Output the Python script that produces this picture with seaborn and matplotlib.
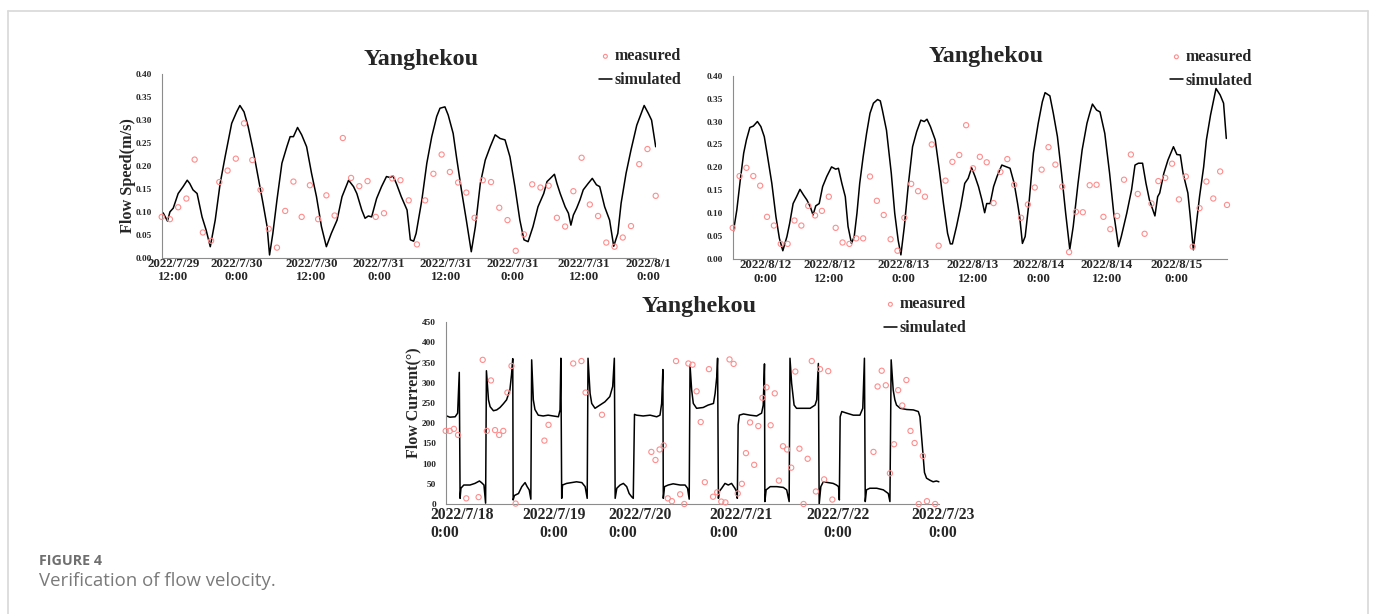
import matplotlib
matplotlib.use("Agg")
import matplotlib.pyplot as plt
from matplotlib.lines import Line2D
from matplotlib.ticker import FormatStrFormatter
import numpy as np
import seaborn as sns

# ------------------------------------------------------------------
# Yanghekou station: flow speed, 2022/7/29 - 2022/8/1 (hours from start)
# ------------------------------------------------------------------
speed_a_meas_t = list(range(61))
speed_a_meas = [0.089, 0.084, 0.110, 0.129, 0.214, 0.055, 0.037, 0.165, 0.190, 0.216,
                0.293, 0.213, 0.148, 0.063, 0.022, 0.102, 0.166, 0.089, 0.158, 0.084,
                0.136, 0.092, 0.261, 0.174, 0.156, 0.167, 0.089, 0.097, 0.173, 0.169,
                0.125, 0.029, 0.125, 0.183, 0.225, 0.187, 0.164, 0.142, 0.087, 0.169,
                0.165, 0.109, 0.082, 0.015, 0.051, 0.160, 0.153, 0.157, 0.087, 0.068,
                0.145, 0.218, 0.116, 0.091, 0.033, 0.024, 0.044, 0.069, 0.204, 0.237,
                0.135]
speed_a_sim_t = [0.0, 0.2, 0.7, 1.0, 1.4, 2.0, 2.6, 3.1, 3.4, 3.8,
                 4.3, 4.9, 5.4, 5.9, 6.5, 7.1, 7.7, 8.5, 9.1, 9.5,
                 10.0, 10.5, 11.1, 11.7, 12.3, 12.8, 13.1, 13.5, 14.0, 14.6,
                 15.2, 15.6, 16.0, 16.5, 17.0, 17.6, 18.2, 18.8, 19.4, 20.0,
                 20.6, 21.3, 21.9, 22.7, 23.3, 23.7, 24.3, 24.7, 25.1, 25.5,
                 26.1, 26.7, 27.3, 27.7, 28.1, 28.5, 29.1, 29.8, 30.2, 30.6,
                 30.9, 31.6, 32.2, 32.8, 33.4, 33.8, 34.4, 34.8, 35.4, 35.8,
                 36.4, 37.0, 37.6, 38.1, 38.7, 39.3, 39.9, 40.5, 41.1, 41.7,
                 42.3, 42.9, 43.5, 44.0, 44.5, 45.1, 45.7, 46.4, 46.8, 47.2,
                 47.7, 48.0, 48.4, 49.0, 49.4, 49.7, 50.0, 50.4, 50.8, 51.2,
                 51.8, 52.3, 52.8, 53.2, 53.8, 54.4, 54.9, 55.4, 55.8, 56.4,
                 57.0, 57.7, 58.1, 58.6, 59.1, 59.5, 60.0]
speed_a_sim = [0.100, 0.097, 0.080, 0.100, 0.108, 0.140, 0.155, 0.169, 0.162, 0.148,
               0.140, 0.089, 0.060, 0.024, 0.082, 0.162, 0.220, 0.293, 0.318, 0.332,
               0.318, 0.286, 0.235, 0.177, 0.119, 0.068, 0.006, 0.053, 0.126, 0.206,
               0.242, 0.264, 0.264, 0.284, 0.268, 0.242, 0.184, 0.133, 0.068, 0.024,
               0.053, 0.082, 0.133, 0.169, 0.155, 0.140, 0.104, 0.086, 0.091, 0.089,
               0.129, 0.155, 0.177, 0.175, 0.178, 0.162, 0.133, 0.104, 0.039, 0.036,
               0.053, 0.126, 0.206, 0.264, 0.308, 0.326, 0.329, 0.311, 0.271, 0.220,
               0.148, 0.082, 0.013, 0.068, 0.162, 0.213, 0.242, 0.268, 0.260, 0.257,
               0.220, 0.155, 0.082, 0.039, 0.035, 0.068, 0.111, 0.140, 0.166, 0.173,
               0.182, 0.162, 0.140, 0.111, 0.097, 0.071, 0.093, 0.108, 0.126, 0.148,
               0.162, 0.173, 0.159, 0.155, 0.111, 0.082, 0.025, 0.053, 0.119, 0.184,
               0.235, 0.289, 0.308, 0.332, 0.315, 0.300, 0.242]
speed_a_ticks = [1.4, 9.1, 18.2, 26.4, 34.5, 42.6, 51.3, 59.1]
speed_a_labels = ["2022/7/29\n12:00", "2022/7/30\n0:00", "2022/7/30\n12:00", "2022/7/31\n0:00",
                  "2022/7/31\n12:00", "2022/7/31\n0:00", "2022/7/31\n12:00", "2022/8/1\n0:00"]

# ------------------------------------------------------------------
# Yanghekou station: flow speed, 2022/8/12 - 2022/8/15
# ------------------------------------------------------------------
speed_b_meas_t = list(range(73))
speed_b_meas = [0.068, 0.181, 0.199, 0.181, 0.160, 0.092, 0.073, 0.033, 0.033, 0.084,
                0.073, 0.116, 0.095, 0.105, 0.136, 0.068, 0.036, 0.033, 0.045, 0.045,
                0.180, 0.127, 0.096, 0.043, 0.018, 0.090, 0.164, 0.148, 0.136, 0.250,
                0.029, 0.171, 0.212, 0.227, 0.292, 0.198, 0.223, 0.211, 0.122, 0.190,
                0.218, 0.162, 0.090, 0.119, 0.156, 0.195, 0.244, 0.206, 0.158, 0.015,
                0.103, 0.102, 0.161, 0.162, 0.092, 0.065, 0.094, 0.173, 0.228, 0.142,
                0.055, 0.121, 0.170, 0.177, 0.208, 0.130, 0.180, 0.027, 0.111, 0.169,
                0.132, 0.191, 0.118]
speed_b_sim_t = [0.1, 0.6, 1.1, 1.6, 2.0, 2.5, 3.0, 3.6, 4.1, 4.6,
                 5.0, 5.7, 6.3, 6.8, 7.3, 7.9, 8.3, 8.8, 9.3, 9.8,
                 10.3, 10.8, 11.3, 11.7, 12.1, 12.6, 13.1, 13.7, 14.4, 15.0,
                 15.4, 15.9, 16.4, 16.8, 17.3, 17.7, 18.1, 18.5, 19.0, 19.5,
                 20.0, 20.5, 21.1, 21.5, 21.8, 22.4, 23.1, 23.6, 24.1, 24.5,
                 25.0, 25.6, 26.2, 26.8, 27.4, 27.9, 28.3, 28.8, 29.5, 30.1,
                 30.7, 31.3, 31.7, 32.0, 32.6, 33.2, 33.8, 34.3, 34.8, 35.3,
                 35.8, 36.3, 36.7, 37.0, 37.5, 38.0, 38.5, 39.2, 39.9, 40.4,
                 41.0, 41.5, 41.8, 42.2, 42.6, 43.2, 43.8, 44.5, 45.1, 45.5,
                 46.2, 46.7, 47.3, 47.9, 48.5, 49.1, 49.6, 50.3, 50.9, 51.6,
                 52.0, 52.4, 53.0, 53.5, 54.2, 54.9, 55.5, 56.2, 56.6, 57.4,
                 58.1, 58.6, 59.1, 59.7, 60.2, 60.7, 61.2, 61.5, 61.9, 62.2,
                 62.8, 63.4, 64.2, 64.7, 65.2, 65.6, 66.3, 66.6, 67.1, 67.5,
                 68.0, 68.6, 69.0, 69.6, 70.4, 71.0, 71.5, 71.9]
speed_b_sim = [0.060, 0.107, 0.172, 0.231, 0.260, 0.287, 0.290, 0.300, 0.289, 0.267,
               0.231, 0.165, 0.092, 0.045, 0.018, 0.049, 0.078, 0.121, 0.136, 0.152,
               0.140, 0.129, 0.114, 0.096, 0.116, 0.121, 0.158, 0.180, 0.201, 0.196,
               0.198, 0.165, 0.136, 0.071, 0.034, 0.049, 0.100, 0.165, 0.223, 0.274,
               0.318, 0.340, 0.348, 0.345, 0.325, 0.281, 0.187, 0.100, 0.041, 0.009,
               0.071, 0.165, 0.245, 0.278, 0.303, 0.300, 0.305, 0.289, 0.260, 0.194,
               0.121, 0.056, 0.033, 0.033, 0.071, 0.114, 0.165, 0.176, 0.199, 0.180,
               0.158, 0.129, 0.101, 0.121, 0.121, 0.158, 0.180, 0.205, 0.201, 0.198,
               0.165, 0.121, 0.092, 0.034, 0.049, 0.129, 0.231, 0.296, 0.343, 0.363,
               0.356, 0.318, 0.267, 0.187, 0.100, 0.021, 0.071, 0.165, 0.238, 0.296,
               0.318, 0.338, 0.325, 0.321, 0.274, 0.187, 0.100, 0.027, 0.049, 0.100,
               0.151, 0.205, 0.209, 0.209, 0.165, 0.129, 0.107, 0.094, 0.136, 0.144,
               0.187, 0.216, 0.245, 0.228, 0.227, 0.187, 0.144, 0.100, 0.020, 0.071,
               0.136, 0.201, 0.260, 0.314, 0.372, 0.358, 0.340, 0.263]
speed_b_ticks = [4.8, 14.1, 24.9, 35.0, 44.6, 54.5, 64.7]
speed_b_labels = ["2022/8/12\n0:00", "2022/8/12\n12:00", "2022/8/13\n0:00", "2022/8/13\n12:00",
                  "2022/8/14\n0:00", "2022/8/14\n12:00", "2022/8/15\n0:00"]

# ------------------------------------------------------------------
# Yanghekou station: flow direction, 2022/7/18 - 2022/7/23
# ------------------------------------------------------------------
dir_meas_t = [0, 1, 2, 3, 5, 8, 9, 10, 11, 12,
              13, 14, 15, 16, 17, 24, 25, 31, 33, 34,
              38, 50, 51, 52, 53, 54, 55, 56, 57, 58,
              59, 60, 61, 62, 63, 64, 65, 66, 67, 68,
              69, 70, 71, 72, 73, 74, 75, 76, 77, 78,
              79, 80, 81, 82, 83, 84, 85, 86, 87, 88,
              89, 90, 91, 92, 93, 94, 104, 105, 106, 107,
              108, 109, 110, 111, 112, 113, 114, 115, 116, 117,
              119]
dir_meas = [181, 181, 186, 171, 14, 17, 357, 181, 306, 183,
            171, 181, 276, 342, 1, 157, 196, 348, 354, 276,
            221, 129, 109, 135, 145, 14, 7, 354, 24, 0,
            348, 345, 279, 203, 54, 334, 18, 29, 6, 4,
            358, 347, 26, 50, 126, 202, 97, 193, 263, 289,
            195, 274, 58, 143, 135, 90, 328, 137, 0, 112,
            354, 31, 334, 61, 329, 11, 129, 291, 330, 294,
            76, 148, 282, 244, 307, 181, 151, 0, 119, 7,
            0]
dir_sim_t = [0.0, 1.0, 2.3, 2.9, 3.3, 3.5, 3.7, 4.4, 5.9, 7.1,
             8.2, 8.7, 9.3, 9.7, 9.9, 10.4, 10.8, 11.6, 12.4, 13.2,
             14.0, 14.8, 15.6, 16.0, 16.3, 16.4, 16.7, 17.7, 18.5, 19.3,
             19.8, 20.3, 20.7, 20.9, 21.3, 21.7, 22.5, 23.7, 24.9, 26.2,
             27.4, 27.8, 28.0, 28.2, 28.4, 29.4, 30.6, 31.8, 33.1, 33.9,
             34.4, 34.6, 35.1, 35.5, 36.3, 37.5, 38.7, 39.9, 40.6, 41.0,
             41.2, 41.6, 42.4, 43.2, 44.0, 44.6, 45.2, 45.6, 45.9, 46.4,
             48.0, 49.7, 51.3, 52.1, 52.5, 52.8, 52.9, 53.2, 54.1, 55.3,
             57.0, 58.2, 58.8, 59.2, 59.4, 59.8, 60.2, 61.0, 62.6, 63.8,
             65.1, 65.5, 65.9, 66.1, 66.3, 66.5, 67.1, 67.9, 68.7, 69.5,
             70.3, 70.7, 70.9, 71.1, 71.4, 72.4, 74.0, 75.6, 76.8, 77.2,
             77.5, 77.6, 77.9, 78.9, 80.5, 82.1, 82.9, 83.5, 83.7, 84.1,
             84.7, 85.3, 86.9, 88.6, 89.8, 90.2, 90.6, 90.8, 91.2, 91.8,
             93.0, 94.2, 95.0, 95.5, 95.7, 95.9, 96.3, 97.5, 99.1, 100.7,
             101.4, 101.8, 102.0, 102.3, 103.1, 104.8, 106.4, 107.6, 108.0, 108.3,
             108.8, 109.2, 109.6, 110.5, 112.1, 113.7, 114.9, 115.3, 115.9, 116.1,
             116.4, 116.9, 117.7, 118.5, 119.3, 119.9]
dir_sim = [219, 215, 216, 225, 326, 14, 39, 47, 47, 51,
           57, 53, 47, 2, 330, 258, 241, 231, 233, 239,
           248, 258, 282, 320, 360, 10, 21, 26, 43, 53,
           43, 35, 12, 357, 258, 234, 220, 218, 220, 218,
           216, 233, 361, 14, 47, 51, 53, 55, 53, 43,
           14, 361, 274, 249, 237, 245, 253, 266, 291, 361,
           14, 39, 47, 51, 43, 26, 18, 14, 222, 220,
           218, 220, 216, 220, 249, 333, 14, 43, 47, 50,
           47, 47, 39, 12, 344, 282, 249, 237, 239, 245,
           249, 274, 315, 361, 14, 31, 39, 51, 47, 51,
           39, 31, 14, 196, 220, 223, 220, 218, 225, 245,
           347, 6, 35, 43, 43, 41, 35, 6, 361, 299,
           245, 237, 237, 237, 245, 258, 348, 0, 43, 55,
           53, 51, 47, 43, 10, 216, 229, 225, 220, 220,
           237, 361, 6, 35, 39, 39, 35, 26, 6, 357,
           282, 258, 245, 237, 234, 233, 229, 216, 142, 117,
           78, 64, 59, 55, 57, 55]
dir_ticks = [3.9, 26.3, 47.2, 71.7, 95.4, 120.8]
dir_labels = ["2022/7/18\n0:00", "2022/7/19\n0:00", "2022/7/20\n0:00",
              "2022/7/21\n0:00", "2022/7/22\n0:00", "2022/7/23\n0:00"]

STATION = "Yanghekou"
CAPTION_HEAD = "FIGURE 4"
CAPTION_TEXT = "Verification of flow velocity."

# ------------------------------------------------------------------
# Styling
# ------------------------------------------------------------------
sns.set_style("white")
plt.rcParams["font.family"] = ["Liberation Serif", "DejaVu Serif"]
plt.rcParams["font.weight"] = "bold"

RED = "#ff8c8c"
SPINE = "#8c8c8c"
W, H = 1375, 614

fig = plt.figure(figsize=(W / 100, H / 100), dpi=100)


def fx(px):
    return px / W


def fy(py):
    return 1 - py / H


def panel(rect, meas_t, meas_v, sim_t, sim_v, xlim, ymax, ystep, yfmt,
          ticks, labels, xfs, xpad, spine_end=None):
    ax = fig.add_axes(rect)
    sns.lineplot(x=sim_t, y=sim_v, ax=ax, color="black", linewidth=1.1,
                 estimator=None, sort=False, label="simulated", zorder=2)
    sns.scatterplot(x=meas_t, y=meas_v, ax=ax, marker="o", s=14,
                    facecolor="none", edgecolor=RED, linewidth=0.8,
                    label="measured", zorder=3, clip_on=False)
    ax.set_xlim(*xlim)
    ax.set_ylim(0, ymax)
    ax.set_yticks(np.arange(0, ymax + ystep / 2, ystep))
    ax.yaxis.set_major_formatter(FormatStrFormatter(yfmt))
    ax.set_xticks(ticks)
    ax.set_xticklabels(labels, fontsize=xfs, fontweight="bold")
    ax.tick_params(axis="x", length=0, pad=xpad)
    ax.tick_params(axis="y", length=0, pad=7, labelsize=6.7)
    for s in ("top", "right"):
        ax.spines[s].set_visible(False)
    for s in ("left", "bottom"):
        ax.spines[s].set_color(SPINE)
        ax.spines[s].set_linewidth(0.8)
    if spine_end is not None:
        ax.spines["bottom"].set_bounds(xlim[0], spine_end)
    ax.set_xlabel("")
    ax.set_ylabel("")
    ax.grid(False)
    return ax


def legend(ax, x_px, y_px):
    h, l = ax.get_legend_handles_labels()
    order = [l.index("measured"), l.index("simulated")]
    ax.legend([h[i] for i in order], [l[i] for i in order], loc="upper left",
              bbox_to_anchor=(fx(x_px), fy(y_px)), bbox_transform=fig.transFigure,
              frameon=False, prop=dict(size=11.5, weight="bold"),
              handlelength=0.8, handletextpad=0.2, labelspacing=0.5,
              borderpad=0, borderaxespad=0, scatterpoints=1, markerscale=0.75)


# Top-left: flow speed (July)
ax1 = panel([fx(161.7), fy(257.7), 494 / W, 183.4 / H],
            speed_a_meas_t, speed_a_meas, speed_a_sim_t, speed_a_sim,
            (0, 60), 0.40, 0.05, "%.2f", speed_a_ticks, speed_a_labels, 9.4, 0)
ax1.set_ylabel("Flow Speed(m/s)", fontsize=11.7, fontweight="bold")
ax1.yaxis.set_label_coords(-0.0682, 0.4455)
ax1.yaxis.label.set_verticalalignment("center")
legend(ax1, 599, 48.5)

# Top-right: flow speed (August)
ax2 = panel([fx(732.7), fy(259), 494.3 / W, 183.3 / H],
            speed_b_meas_t, speed_b_meas, speed_b_sim_t, speed_b_sim,
            (0, 72), 0.40, 0.05, "%.2f", speed_b_ticks, speed_b_labels, 9.4, 0)
legend(ax2, 1170, 49)

# Bottom: flow direction
ax3 = panel([fx(445.7), fy(504), 497.7 / W, 181.7 / H],
            dir_meas_t, dir_meas, dir_sim_t, dir_sim,
            (0, 121), 450, 50, "%d", dir_ticks, dir_labels, 11.3, 2, spine_end=120)
ax3.set_ylabel("Flow Current(°)", fontsize=11.5, fontweight="bold")
ax3.yaxis.set_label_coords(-0.0651, 0.5586)
ax3.yaxis.label.set_verticalalignment("center")
for i in (0, 2, 3):
    ax3.get_xticklabels()[i].set_multialignment("left")
legend(ax3, 884, 296.5)

# Station titles
for cx, base in ((421, 65), (986, 62), (699, 311.7)):
    fig.text(fx(cx), fy(base), STATION, ha="center", va="baseline",
             fontsize=17.3, fontweight="bold")

# Outer frame (top, left and right rules)
frame = dict(color="#d8d8d8", linewidth=1.2)
fig.add_artist(Line2D([fx(8), fx(1368)], [fy(11), fy(11)], **frame))
fig.add_artist(Line2D([fx(8), fx(8)], [fy(11), 0], **frame))
fig.add_artist(Line2D([fx(1368), fx(1368)], [fy(11), 0], **frame))

# Caption
fig.text(fx(39), fy(565), CAPTION_HEAD, ha="left", va="baseline",
         family=["Open Sans", "DejaVu Sans"], fontsize=10.3, fontweight="bold",
         color="#6f6f6f")
fig.text(fx(39), fy(586), CAPTION_TEXT, ha="left", va="baseline",
         family=["Open Sans", "DejaVu Sans"], fontsize=13.4, fontweight="normal",
         color="#7a7a7a")

fig.savefig("out.png", dpi=100)
